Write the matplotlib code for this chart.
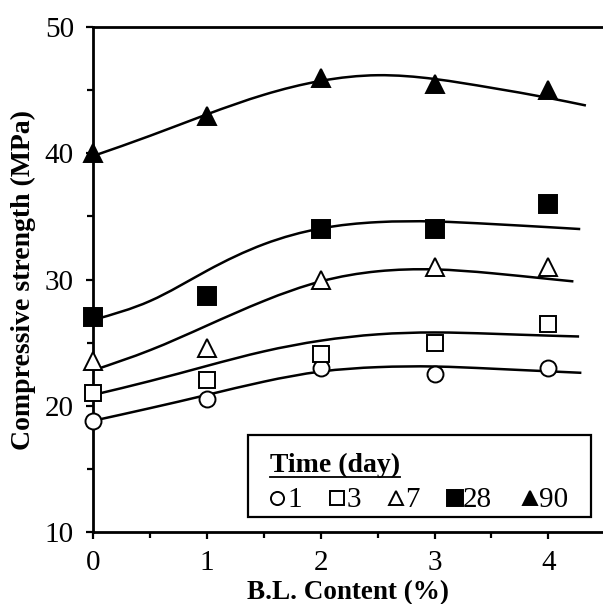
import matplotlib
matplotlib.use("Agg")
import matplotlib.pyplot as plt
import numpy as np
from matplotlib.path import Path
from matplotlib.patches import PathPatch, Rectangle
from matplotlib.lines import Line2D
from matplotlib.ticker import MultipleLocator

plt.rcParams['font.family'] = ['Liberation Serif', 'DejaVu Serif']

# ---- data ----
content = [0, 1, 2, 3, 4]
labels = ['1', '3', '7', '28', '90']
s1 = [18.8, 20.5, 23.0, 22.5, 23.0]
s3 = [21.0, 22.0, 24.1, 25.0, 26.5]
s7 = [23.5, 24.6, 30.0, 31.0, 31.0]
s28 = [27.0, 28.7, 34.0, 34.0, 36.0]
s90 = [40.0, 43.0, 46.0, 45.5, 45.0]

# trend curves
cx_base = [0, 0.5, 1, 1.5, 2, 2.5, 3, 3.5, 4]
c1 = [18.8, 19.8, 20.85, 21.9, 22.7, 23.05, 23.1, 22.93, 22.72, 22.6]
c1_end = 4.29
c3 = [20.85, 21.95, 23.15, 24.3, 25.15, 25.65, 25.8, 25.7, 25.55, 25.48]
c3_end = 4.27
c7 = [22.8, 24.4, 26.35, 28.3, 29.85, 30.65, 30.8, 30.5, 30.05, 29.85]
c7_end = 4.22
c28 = [26.8, 28.3, 30.7, 32.8, 34.05, 34.55, 34.6, 34.4, 34.15, 34.0]
c28_end = 4.28
c90 = [39.8, 41.4, 43.1, 44.65, 45.75, 46.2, 45.9, 45.2, 44.4, 43.8]
c90_end = 4.33

series = [s1, s3, s7, s28, s90]
curves = [(c1, c1_end), (c3, c3_end), (c7, c7_end), (c28, c28_end), (c90, c90_end)]
markers = ['o', 's', '^', 's', '^']
faces = ['white', 'white', 'white', 'black', 'black']
msizes = [11.5, 12, 13, 13.5, 13]

W, H = 603, 604
fig = plt.figure(figsize=(W / 100, H / 100), dpi=100)
ax = fig.add_axes([0.1547, 0.1197, 0.8453, 0.8351])
ax.set_xlim(0, 4.48)
ax.set_ylim(10, 50)


def smooth_path(xs, ys):
    """Bezier path through the read points with natural-spline tangents."""
    x = np.asarray(xs, float)
    y = np.asarray(ys, float)
    n = len(x)
    h = np.diff(x)
    A = np.zeros((n, n))
    b = np.zeros(n)
    A[0, 0] = A[-1, -1] = 1.0
    for i in range(1, n - 1):
        A[i, i - 1] = h[i - 1]
        A[i, i] = 2 * (h[i - 1] + h[i])
        A[i, i + 1] = h[i]
        b[i] = 6 * ((y[i + 1] - y[i]) / h[i] - (y[i] - y[i - 1]) / h[i - 1])
    M = np.linalg.solve(A, b)
    m = np.zeros(n)
    for i in range(n - 1):
        m[i] = (y[i + 1] - y[i]) / h[i] - h[i] * (2 * M[i] + M[i + 1]) / 6
    m[-1] = (y[-1] - y[-2]) / h[-1] + h[-1] * (M[-2] + 2 * M[-1]) / 6
    verts = [(x[0], y[0])]
    codes = [Path.MOVETO]
    for i in range(n - 1):
        d = h[i] / 3
        verts += [(x[i] + d, y[i] + m[i] * d), (x[i + 1] - d, y[i + 1] - m[i + 1] * d),
                  (x[i + 1], y[i + 1])]
        codes += [Path.CURVE4] * 3
    return Path(verts, codes)


for (cy, cend) in curves:
    xs = cx_base + [cend]
    ax.add_patch(PathPatch(smooth_path(xs, cy), fill=False, edgecolor='black',
                           lw=1.8, transform=ax.transData, zorder=2,
                           clip_on=False))

for ys, m, fc, ms, lab in zip(series, markers, faces, msizes, labels):
    ax.plot(content, ys, linestyle='none', marker=m, ms=ms,
            markerfacecolor=fc, markeredgecolor='black', mew=1.4,
            zorder=3, clip_on=False, label=lab)

ax.spines['right'].set_visible(False)
for side in ['left', 'bottom', 'top']:
    ax.spines[side].set_linewidth(2.0)

ax.xaxis.set_major_locator(MultipleLocator(1))
ax.xaxis.set_minor_locator(MultipleLocator(0.5))
ax.yaxis.set_major_locator(MultipleLocator(10))
ax.yaxis.set_minor_locator(MultipleLocator(5))
ax.tick_params(which='both', direction='out', width=1.6, top=False, right=False)
ax.tick_params(which='major', length=5, labelsize=21, pad=8)
ax.tick_params(which='minor', length=4)
ax.tick_params(axis='y', which='major', pad=9)

ax.set_xlabel('B.L. Content (%)', fontsize=19.5, fontweight='bold', labelpad=3)
ax.set_ylabel('Compressive strength (MPa)', fontsize=20, fontweight='bold', labelpad=6)

# ---- legend box (laid out in figure pixels) ----
def fx(px):
    return px / W


def fy(py):
    return 1 - py / H


box_l, box_r, box_t, box_b = 248, 591, 435, 517
fig.add_artist(Rectangle((fx(box_l), fy(box_b)), fx(box_r) - fx(box_l),
                         fy(box_t) - fy(box_b), transform=fig.transFigure,
                         facecolor='white', edgecolor='black', lw=1.6, zorder=5))
title = fig.text(fx(270), fy(472), 'Time (day)', fontsize=20, fontweight='bold',
                 ha='left', va='baseline', zorder=6)
fig.canvas.draw()
tb = title.get_window_extent()
fig.add_artist(Line2D([fx(270), fx(270) + tb.width / W], [fy(476.5), fy(476.5)],
                      color='black', lw=1.3, transform=fig.transFigure, zorder=6))

handle_x = [277, 337, 395.5, 455.5, 530]
text_x = [287, 347, 405, 463, 539]
row_y = 498
row_base = 507
for hx, tx, m, fc, ms, lab in zip(handle_x, text_x, markers, faces, msizes, labels):
    fig.add_artist(Line2D([fx(hx)], [fy(row_y)], linestyle='none', marker=m,
                          ms=ms * 0.82, markerfacecolor=fc, markeredgecolor='black',
                          mew=1.4, transform=fig.transFigure, zorder=6))
    fig.text(fx(tx), fy(row_base), lab, fontsize=21, ha='left', va='baseline',
             zorder=6)

fig.savefig('out.png', dpi=100)
